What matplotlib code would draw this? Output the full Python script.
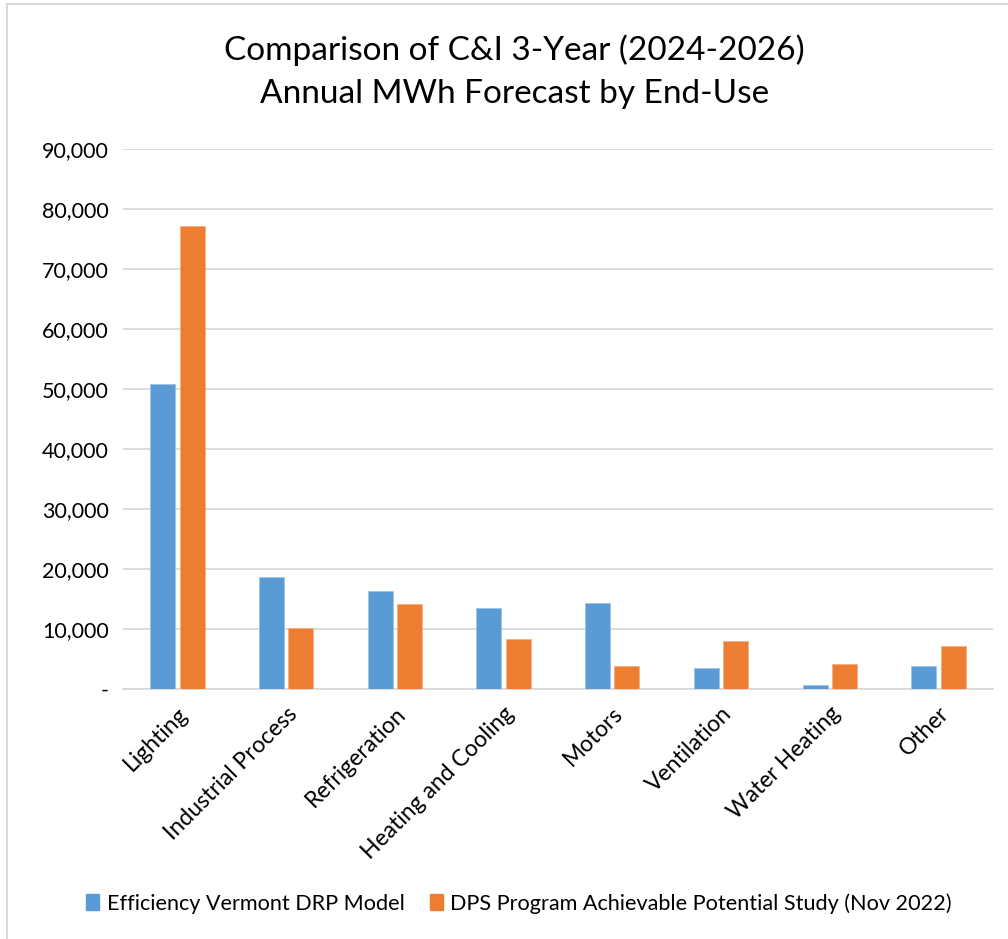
import matplotlib
matplotlib.use("Agg")
import matplotlib.pyplot as plt
import numpy as np
from matplotlib.lines import Line2D
from matplotlib.ticker import FuncFormatter

categories = ["Lighting", "Industrial Process", "Refrigeration", "Heating and Cooling",
              "Motors", "Ventilation", "Water Heating", "Other"]
evt_drp = [50800, 18750, 16400, 13450, 14300, 3550, 600, 3780]
dps_study = [77200, 10100, 14100, 8350, 3850, 7950, 4150, 7230]
series_names = ["Efficiency Vermont DRP Model",
                "DPS Program Achievable Potential Study (Nov 2022)"]
yticks = list(range(0, 90001, 10000))

plt.rcParams['font.family'] = ['Lato', 'DejaVu Sans']

fig = plt.figure(figsize=(10.08, 9.39), dpi=100)
ax = fig.add_axes([0.122, 0.2662, 0.863, 0.5751])

x = np.arange(len(categories))
w = 0.23
blue = "#5B9BD5"
orange = "#ED7D31"
ax.bar(x - 0.135, evt_drp, width=w, color=blue, edgecolor="#9DC3E6", linewidth=0.6,
       label=series_names[0], zorder=3)
ax.bar(x + 0.135, dps_study, width=w, color=orange, edgecolor="#F4B183", linewidth=0.6,
       label=series_names[1], zorder=3)

ax.set_xlim(-0.5, len(categories) - 0.5)
ax.set_ylim(0, 90000)
ax.set_yticks(yticks)
ax.yaxis.set_major_formatter(FuncFormatter(lambda v, p: "-" if v == 0 else f"{int(v):,}"))
ax.grid(axis='y', color="#D9D9D9", linewidth=1.3, zorder=0)
for s in ["top", "right", "left"]:
    ax.spines[s].set_visible(False)
ax.spines["bottom"].set_color("#D9D9D9")
ax.spines["bottom"].set_linewidth(1.3)
ax.tick_params(axis='both', length=0, colors="#000000")
ax.tick_params(axis='y', pad=10, labelsize=15.5)
ax.set_xticks(x + 0.0)
ax.set_xticklabels(categories, rotation=45, ha='right', rotation_mode='anchor', fontsize=16.5)
ax.tick_params(axis='x', pad=10)

fig.text(0.51, 0.924, "Comparison of C&I 3-Year (2024-2026)\nAnnual MWh Forecast by End-Use",
         ha='center', va='center', fontsize=24, linespacing=1.55)

handles = [plt.Rectangle((0, 0), 1, 1, color=blue), plt.Rectangle((0, 0), 1, 1, color=orange)]
fig.legend(handles, series_names, loc='center', bbox_to_anchor=(0.515, 0.038), ncol=2,
           frameon=False, fontsize=15.6, handlelength=0.6, handleheight=0.7,
           handletextpad=0.35, columnspacing=1.15)

fig.add_artist(Line2D([7/1008, 1.0], [1 - 4/939, 1 - 4/939], color="#D9D9D9", linewidth=1.5))
fig.add_artist(Line2D([7/1008, 7/1008], [0, 1 - 4/939], color="#D9D9D9", linewidth=1.5))

fig.savefig("out.png", dpi=100)
